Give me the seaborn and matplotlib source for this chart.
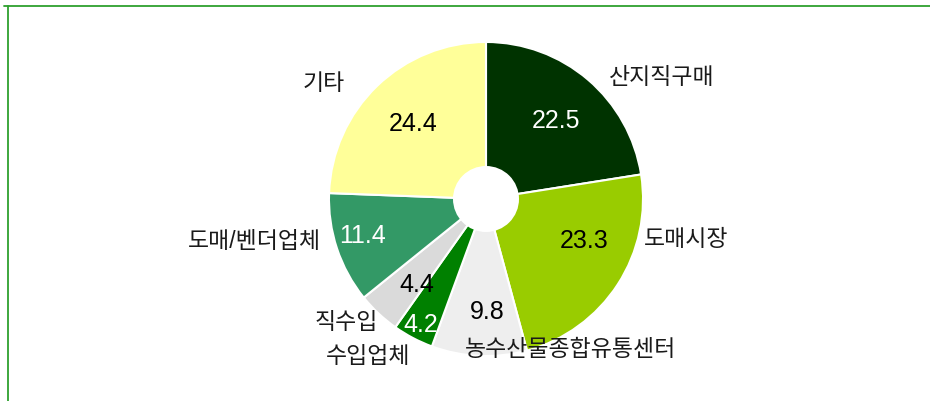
import matplotlib
matplotlib.use('Agg')
import matplotlib.pyplot as plt
import seaborn as sns
from matplotlib.lines import Line2D
from matplotlib.patches import Circle

sns.set_style('white')
plt.rcParams['font.family'] = ['Liberation Sans', 'Noto Sans CJK KR', 'DejaVu Sans']

# --- data ---
channels = ['산지직구매', '도매시장', '농수산물종합유통센터', '수입업체', '직수입', '도매/벤더업체', '기타']
shares = [22.5, 23.3, 9.8, 4.2, 4.4, 11.4, 24.4]

colors = ['#003300', '#99CC00', '#EEEEEE', '#008000', '#DADADA', '#339966', '#FFFF99']
value_colors = ['white', 'black', 'black', 'white', 'black', 'white', 'black']

# label layout in pixel coords (x, y from top of image)
name_pos = [(609, 77, 'left'), (644, 240, 'left'), (465, 350, 'left'), (410, 357, 'right'),
            (378, 323, 'right'), (321, 242, 'right'), (345, 83, 'right')]
value_pos = [(556, 121), (584, 241), (487, 312), (421, 325), (417, 285), (362, 236), (413, 124)]

W, H = 930, 402
fig = plt.figure(figsize=(W / 100, H / 100), dpi=100)
ax = fig.add_axes([0, 0, 1, 1])

cx, cy, r = 486, H - 200, 157
wedges, _ = ax.pie(shares, colors=colors, startangle=90, counterclock=False,
                   center=(cx, cy), radius=r, explode=[0.02] * len(shares),
                   wedgeprops=dict(edgecolor='white', linewidth=1.5), frame=True)
ax.set_xlim(0, W)
ax.set_ylim(0, H)
ax.set_aspect('equal')
ax.axis('off')

# hole in the middle
ax.add_patch(Circle((cx, cy), 33, facecolor='white', edgecolor='none', zorder=5))

for name, (x, y, ha) in zip(channels, name_pos):
    ax.text(x, H - y, name, ha=ha, va='center', fontsize=16.5, color='#1a1a1a')

for v, (x, y), c in zip(shares, value_pos, value_colors):
    ax.text(x, H - y, f'{v:.1f}', ha='center', va='center', fontsize=18, color=c, zorder=6)

# green frame lines (top and left)
fig.add_artist(Line2D([4 / W, 1], [1 - 6.5 / H, 1 - 6.5 / H], color='#2EA02E', linewidth=1.3))
fig.add_artist(Line2D([7.5 / W, 7.5 / W], [0, 1 - 6.5 / H], color='#2EA02E', linewidth=1.3))

fig.savefig('out.png', dpi=100)
